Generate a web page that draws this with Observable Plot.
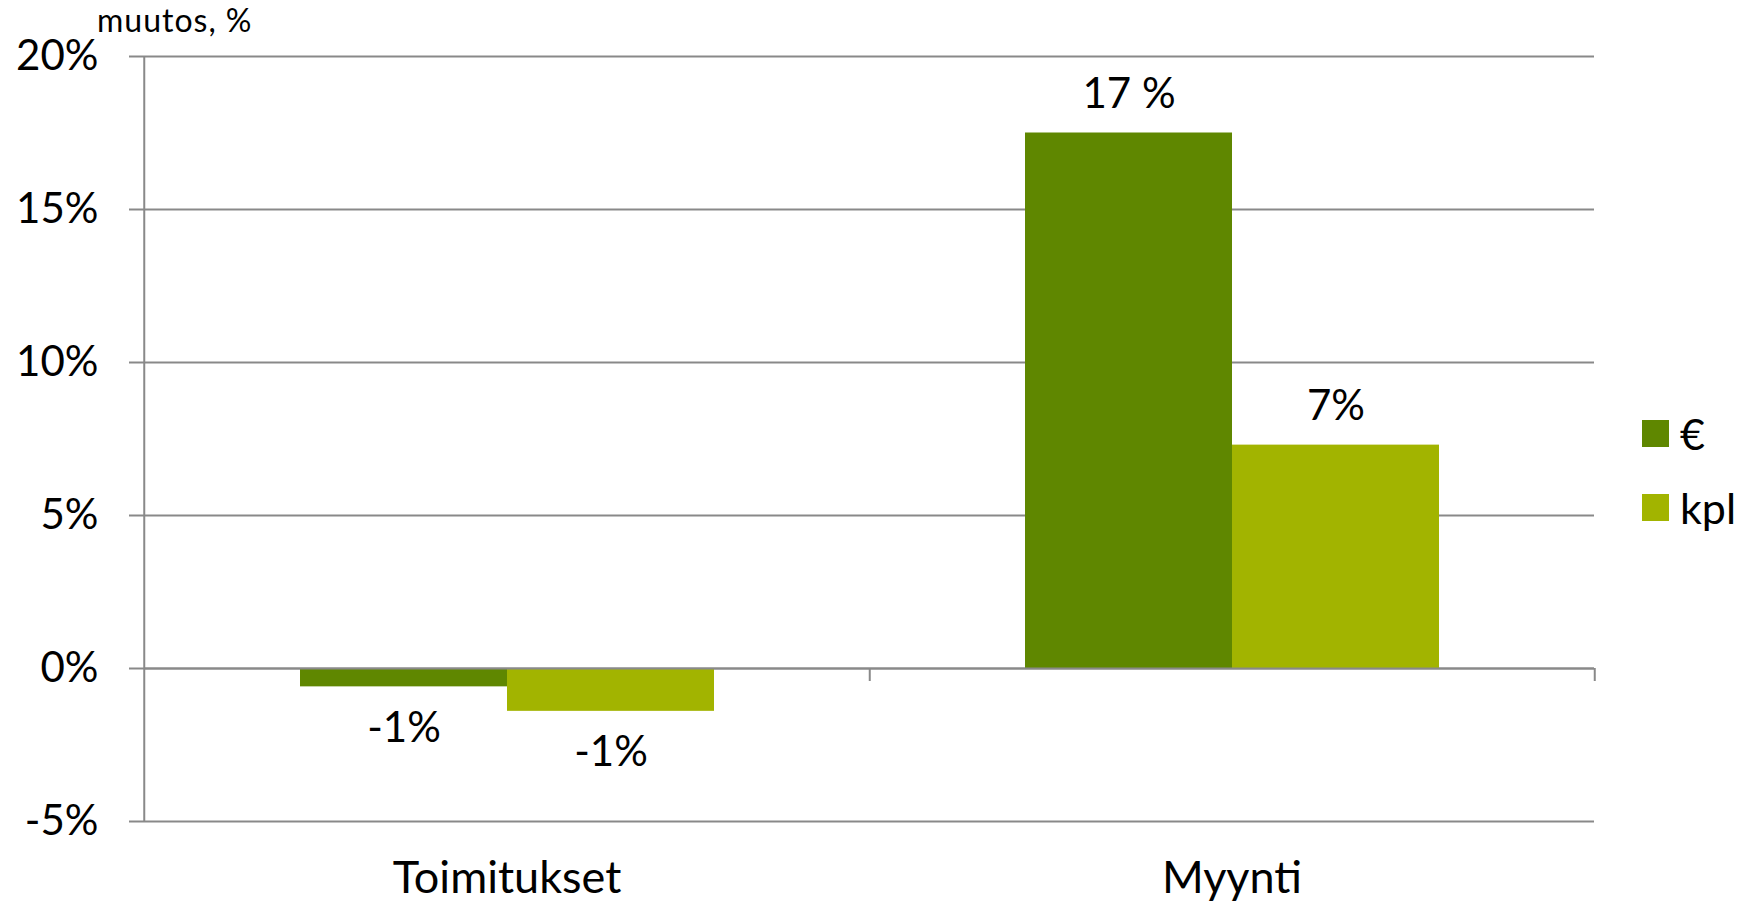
<!DOCTYPE html>
<html><head><meta charset="utf-8">
<script src="https://cdn.jsdelivr.net/npm/d3@7"></script>
<script src="https://cdn.jsdelivr.net/npm/@observablehq/plot@0.6"></script>
<style>
body{margin:0;background:#fff;font-family:Lato,sans-serif;color:#000;}
#wrap{position:relative;width:1745px;height:905px;overflow:hidden;}
#ylabel{position:absolute;left:97px;top:4px;font-size:32px;line-height:1;letter-spacing:1px;white-space:nowrap;}
.leg{position:absolute;left:1642px;height:27px;display:flex;align-items:center;font-size:43px;line-height:1;white-space:nowrap;}
.sw{width:27px;height:27px;margin-right:11px;flex:none;}
</style></head><body>
<div id="wrap"><div id="chart"></div><div id="ylabel">muutos, %</div><div id="legend"></div></div>
<script>
const categories = ["Toimitukset", "Myynti"];
const series = ["€", "kpl"];
const euroValues = [-0.6, 17.5];
const kplValues = [-1.4, 7.3];
const euroLabels = ["-1%", "17 %"];
const kplLabels = ["-1%", "7%"];
const yTicks = [-5, 0, 5, 10, 15, 20];
const yTickLabels = ["-5%", "0%", "5%", "10%", "15%", "20%"];
const colors = ["#5f8700", "#a2b400"];

const rows = categories.flatMap((c, i) => [
  {category: c, series: series[0], value: euroValues[i], label: euroLabels[i]},
  {category: c, series: series[1], value: kplValues[i], label: kplLabels[i]}
]);

const W = 1745, H = 905, ML = 143, MR = 151, MT = 56, MB = 84;
const gray = "#898989";
const bw = (W - ML - MR) / categories.length;

const chart = Plot.plot({
  width: W, height: H,
  marginLeft: ML, marginRight: MR, marginTop: MT, marginBottom: MB,
  style: {fontFamily: "Lato, sans-serif", fontSize: "42px", color: "#000", background: "#fff"},
  fx: {domain: categories, padding: 0, label: null},
  x: {domain: series, paddingInner: 0, paddingOuter: 0.75, axis: null},
  y: {domain: [-5, 20], label: null},
  color: {domain: series, range: colors},
  marks: [
    Plot.gridY(yTicks, {stroke: gray, strokeOpacity: 1, strokeWidth: 2}),
    Plot.barY(rows, {fx: "category", x: "series", y: "value", fill: "series"}),
    Plot.ruleY([0], {stroke: gray, strokeWidth: 2}),
    // category separator ticks below the zero line
    Plot.ruleX(categories, {fx: d => d, x: null, y1: 0, y2: 0, insetTop: 13, dx: bw / 2, stroke: gray, strokeWidth: 2}),
    // vertical axis line on the left of the first category
    Plot.ruleX([categories[0]], {fx: d => d, x: null, dx: -bw / 2, stroke: gray, strokeWidth: 2}),
    Plot.axisY({ticks: yTicks, tickFormat: d => yTickLabels[yTicks.indexOf(d)], tickSize: 15, tickPadding: 31, stroke: gray, strokeWidth: 2, strokeOpacity: 1, fill: "#000", fontSize: 42, label: null}),
    Plot.axisFx({anchor: "bottom", tickSize: 0, tickPadding: 40, fontSize: 45, label: null, fill: "#000"}),
    Plot.text(rows.filter(d => d.value >= 0), {fx: "category", x: "series", y: "value", text: "label", lineAnchor: "bottom", dy: -25, fontSize: 42, fill: "#000"}),
    Plot.text(rows.filter(d => d.value < 0), {fx: "category", x: "series", y: "value", text: "label", lineAnchor: "top", dy: 25, fontSize: 42, fill: "#000"})
  ]
});
document.getElementById("chart").appendChild(chart);

const legend = document.getElementById("legend");
const legTops = [420, 494];
series.forEach((s, i) => {
  const item = document.createElement("div");
  item.className = "leg";
  item.style.top = legTops[i] + "px";
  const sw = document.createElement("div");
  sw.className = "sw";
  sw.style.background = colors[i];
  item.appendChild(sw);
  const t = document.createElement("span");
  t.textContent = s;
  item.appendChild(t);
  legend.appendChild(item);
});
</script>
</body></html>
